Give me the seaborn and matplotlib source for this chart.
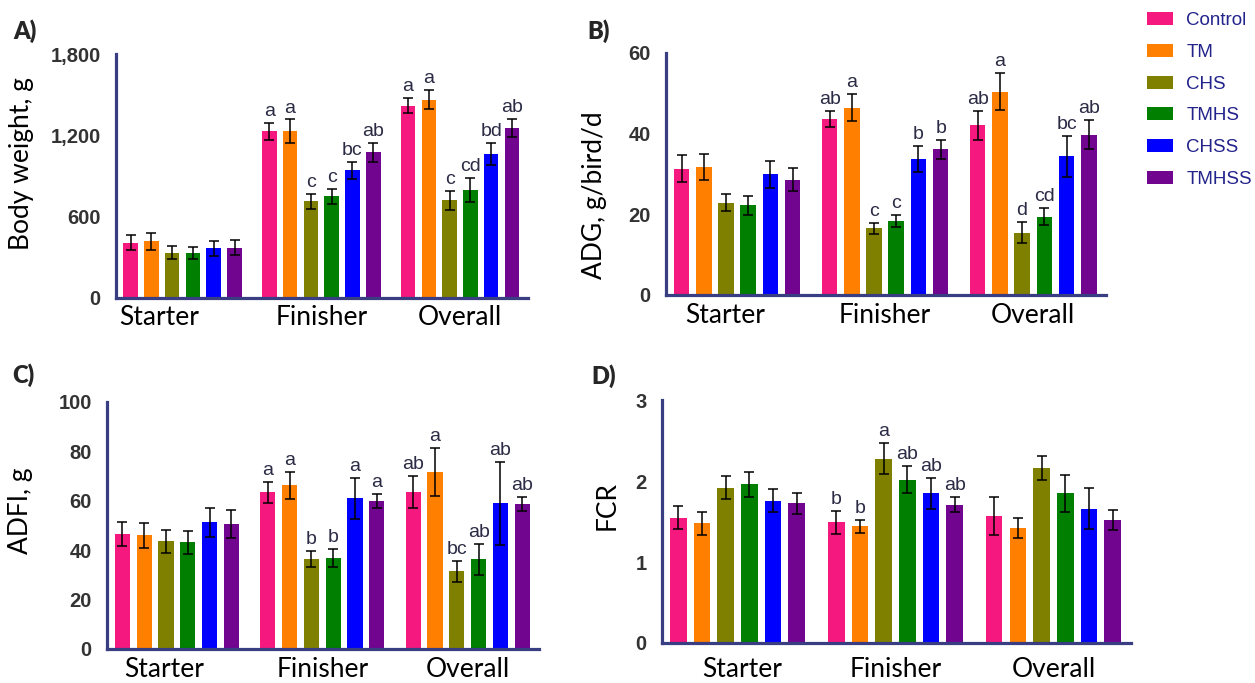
import numpy as np
import pandas as pd
import seaborn as sns
import matplotlib.pyplot as plt
from matplotlib.patches import Patch
from matplotlib.ticker import FuncFormatter

periods = ["Starter", "Finisher", "Overall"]
treatments = ["Control", "TM", "CHS", "TMHS", "CHSS", "TMHSS"]
palette = ["#F5187F", "#FF7F00", "#808000", "#007F00", "#0000FF", "#72058F"]

# Body weight, g  (rows: period, columns: treatment)
bw_mean = [[409, 419, 335, 330, 367, 372],
           [1229, 1229, 712, 749, 941, 1076],
           [1420, 1462, 720, 799, 1062, 1254]]
bw_sd = [[58, 63, 47, 45, 55, 55],
         [65, 88, 52, 57, 62, 69],
         [54, 70, 69, 88, 80, 66]]
bw_letters = [["", "", "", "", "", ""],
              ["a", "a", "c", "c", "bc", "ab"],
              ["a", "a", "c", "cd", "bd", "ab"]]

# Average daily gain, g/bird/d
adg_mean = [[31.3, 31.8, 22.8, 22.2, 29.9, 28.6],
            [43.5, 46.4, 16.5, 18.3, 33.6, 36.1],
            [42.0, 50.3, 15.4, 19.4, 34.3, 39.7]]
adg_sd = [[3.4, 3.2, 2.1, 2.3, 3.4, 2.8],
          [2.0, 3.3, 1.4, 1.5, 3.2, 2.4],
          [3.6, 4.6, 2.6, 2.1, 5.1, 3.6]]
adg_letters = [["", "", "", "", "", ""],
               ["ab", "a", "c", "c", "b", "b"],
               ["ab", "a", "d", "cd", "bc", "ab"]]

# Average daily feed intake, g
adfi_mean = [[46.6, 46.0, 43.5, 43.1, 51.2, 50.5],
             [63.3, 66.2, 36.4, 36.8, 60.9, 59.8],
             [63.5, 71.6, 31.4, 36.2, 59.0, 58.6]]
adfi_sd = [[4.9, 5.1, 4.7, 4.5, 5.9, 5.8],
           [4.2, 5.5, 3.2, 3.7, 8.2, 2.7],
           [6.4, 9.6, 4.2, 6.2, 16.8, 2.9]]
adfi_letters = [["", "", "", "", "", ""],
                ["a", "a", "b", "b", "a", "a"],
                ["ab", "a", "bc", "ab", "ab", "ab"]]

# Feed conversion ratio
fcr_mean = [[1.55, 1.48, 1.92, 1.96, 1.76, 1.73],
            [1.49, 1.44, 2.28, 2.02, 1.85, 1.71],
            [1.57, 1.42, 2.16, 1.85, 1.66, 1.52]]
fcr_sd = [[0.14, 0.14, 0.14, 0.15, 0.14, 0.13],
          [0.14, 0.08, 0.19, 0.17, 0.19, 0.09],
          [0.24, 0.12, 0.15, 0.23, 0.25, 0.12]]
fcr_letters = [["", "", "", "", "", ""],
               ["b", "b", "a", "ab", "ab", "ab"],
               ["", "", "", "", "", ""]]

NAVY = "#393D82"
TICK_TXT = "#333333"
LETTER_C = "#2B2B45"
LABEL_FONT = "Lato"
TICK_FONT = "Liberation Sans"

sns.set_style("white")
plt.rcParams["font.family"] = ["Lato", "DejaVu Sans"]

fig = plt.figure(figsize=(12.55, 6.83), dpi=100)


def draw_panel(rect, means, sds, letters, ylabel, yticks, fmt,
               label_xy, xlab_pad, starter_shift, tag, tag_xy):
    ax = fig.add_axes(rect)
    df = pd.DataFrame({
        "period": np.repeat(periods, len(treatments)),
        "treatment": treatments * len(periods),
        "value": np.ravel(means),
    })
    sns.barplot(data=df, x="period", y="value", hue="treatment",
                order=periods, hue_order=treatments, palette=palette,
                width=0.9, gap=0.3, errorbar=None, legend=False,
                saturation=1, linewidth=0, ax=ax)
    bar_sets = list(ax.containers)
    for ti, cont in enumerate(bar_sets):
        for pi, bar in enumerate(cont):
            xc = bar.get_x() + bar.get_width() / 2
            h = bar.get_height()
            sd = sds[pi][ti]
            ax.errorbar(xc, h, yerr=sd, fmt="none", ecolor="black",
                        elinewidth=1.1, capsize=3.3, capthick=1.1, zorder=3)
            lab = letters[pi][ti]
            if lab:
                ax.annotate(lab, (xc, h + sd), xytext=(0, 5),
                            textcoords="offset points", ha="center",
                            va="baseline", fontsize=14, color=LETTER_C,
                            family=TICK_FONT)
    ax.set_xlim(-0.48, 2.49)
    ax.set_ylim(yticks[0], yticks[-1])
    ax.set_yticks(yticks)
    ax.yaxis.set_major_formatter(FuncFormatter(fmt))
    ax.set_xticks([0 + starter_shift, 1, 2])
    ax.set_xticklabels(periods)
    for side in ("top", "right"):
        ax.spines[side].set_visible(False)
    for side in ("left", "bottom"):
        ax.spines[side].set_color(NAVY)
        ax.spines[side].set_linewidth(2.3)
    ax.tick_params(axis="y", length=8, width=2.2, color=NAVY, pad=3)
    ax.tick_params(axis="x", length=0, pad=xlab_pad)
    for t in ax.get_yticklabels():
        t.set_fontfamily(TICK_FONT)
        t.set_fontweight("bold")
        t.set_fontsize(14.5)
        t.set_color(TICK_TXT)
    for t in ax.get_xticklabels():
        t.set_fontfamily(LABEL_FONT)
        t.set_fontsize(19)
        t.set_color("black")
    ax.set_xlabel("")
    ax.set_ylabel(ylabel, fontsize=19, family=LABEL_FONT, color="black")
    ax.yaxis.set_label_coords(*label_xy)
    fig.text(tag_xy[0], tag_xy[1], tag, fontsize=17, fontweight="heavy",
             family=LABEL_FONT, va="center", ha="left")
    return ax


draw_panel([0.0924, 0.5637, 0.3283, 0.3572], bw_mean, bw_sd, bw_letters,
           "Body weight, g", [0, 600, 1200, 1800],
           lambda v, p: f"{int(v):,}", (-0.20, 0.55), 5, -0.17,
           "A)", (0.011, 0.955))
draw_panel([0.5307, 0.5681, 0.3504, 0.3547], adg_mean, adg_sd, adg_letters,
           "ADG, g/bird/d", [0, 20, 40, 60],
           lambda v, p: f"{int(v)}", (-0.135, 0.41), 6, -0.08,
           "B)", (0.468, 0.955))
draw_panel([0.0853, 0.0498, 0.3442, 0.3621], adfi_mean, adfi_sd, adfi_letters,
           "ADFI, g", [0, 20, 40, 60, 80, 100],
           lambda v, p: f"{int(v)}", (-0.171, 0.558), 6, -0.086,
           "C)", (0.010, 0.451))
draw_panel([0.5273, 0.0586, 0.3737, 0.3553], fcr_mean, fcr_sd, fcr_letters,
           "FCR", [0, 1, 2, 3],
           lambda v, p: f"{int(v)}", (-0.089, 0.565), 10, 0.03,
           "D)", (0.471, 0.449))

handles = [Patch(facecolor=c, edgecolor="none") for c in palette]
fig.legend(handles, treatments, loc="upper left",
           bbox_to_anchor=(1147 / 1255, 1 - 12 / 683), frameon=False,
           prop={"family": TICK_FONT, "size": 13.5}, labelcolor="#23238C",
           handlelength=1.4, handleheight=0.7, handletextpad=0.7,
           labelspacing=0.78, borderpad=0, borderaxespad=0)

fig.savefig("out.png", dpi=100)
